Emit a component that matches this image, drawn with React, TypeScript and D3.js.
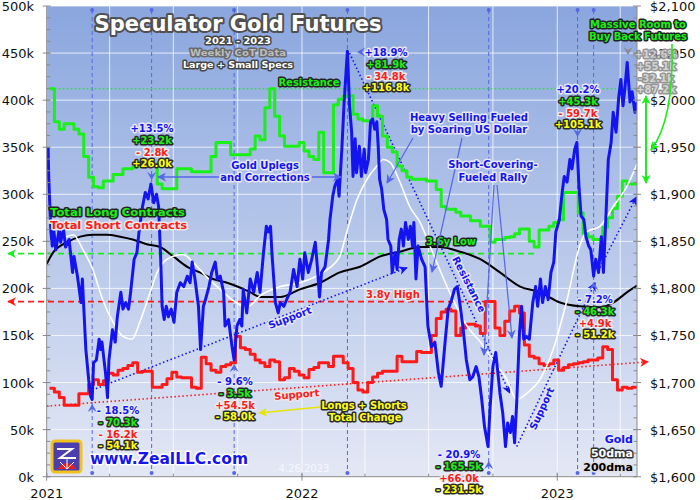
import * as d3 from "d3";

// --- data -----------------------------------------------------------------
const START = new Date(2021, 0, 1);
const END = new Date(2023, 3, 25);

// weekly CoT, Tuesdays from 2021-01-05, thousands of contracts (large + small specs)
const longs = [
  412, 377, 369, 375, 375, 369, 364, 340, 318, 308,
  307, 314, 314, 321, 321, 327, 327, 329, 330, 332,
  332, 332, 311, 306, 306, 306, 327, 327, 327, 324,
  324, 324, 324, 340, 355, 355, 355, 342, 342, 342,
  342, 348, 362, 358, 392, 412, 383, 362, 351, 351,
  351, 355, 346, 340, 337, 366, 323, 323, 395, 401,
  404, 405, 385, 380, 378, 378, 394, 383, 362, 350,
  345, 330, 325, 318, 316, 316, 316, 314, 314, 305,
  287, 284, 284, 281, 277, 277, 272, 272, 266, 266,
  249, 252, 252, 254, 255, 258, 263, 263, 250, 244,
  262, 262, 266, 270, 273, 302, 302, 302, 280, 258,
  255, 252, 252, 265, 275, 285, 298, 314, 311, 311,
  311,
];
const shorts = [
  94, 90, 84, 76, 76, 76, 88, 88, 98, 103,
  98, 102, 110, 108, 113, 115, 118, 121, 111, 112,
  112, 95, 95, 98, 104, 111, 106, 105, 105, 95,
  94, 127, 120, 113, 111, 117, 119, 121, 149, 137,
  135, 130, 124, 121, 117, 124, 122, 103, 105, 115,
  112, 108, 105, 114, 116, 121, 121, 117, 128, 128,
  121, 115, 100, 92, 90, 100, 106, 110, 112, 112,
  112, 128, 122, 122, 122, 133, 132, 132, 150, 168,
  175, 178, 176, 150, 158, 162, 162, 160, 152, 186,
  186, 158, 150, 165, 176, 181, 174, 140, 128, 126,
  120, 118, 120, 124, 113, 116, 119, 120, 121, 122,
  124, 124, 126, 138, 135, 103, 92, 95, 94, 95,
  95,
];

// gold [days since 2021-01-01, $/oz]
const gold: [number, number][] = [
  [2, 1950], [3, 1916], [6, 1860], [8, 1845], [10, 1863], [13, 1841], [18, 1863], [20, 1849],
  [24, 1863], [27, 1844], [32, 1852], [37, 1817], [39, 1834], [44, 1813], [49, 1785], [51, 1810],
  [56, 1735], [60, 1703], [63, 1685], [65, 1682], [67, 1721], [71, 1724], [75, 1746], [77, 1735],
  [79, 1743], [84, 1711], [87, 1684], [89, 1724], [94, 1756], [98, 1743], [101, 1770], [106, 1796],
  [109, 1778], [113, 1785], [117, 1778], [120, 1796], [125, 1831], [129, 1838], [132, 1860], [137, 1887],
  [141, 1902], [145, 1895], [149, 1911], [153, 1891], [157, 1900], [160, 1887], [163, 1831], [165, 1781],
  [168, 1767], [171, 1781], [174, 1770], [178, 1778], [182, 1764], [186, 1796], [191, 1806], [196, 1802],
  [201, 1813], [205, 1806], [208, 1828], [212, 1810], [217, 1781], [220, 1735], [224, 1781], [227, 1788],
  [232, 1802], [236, 1817], [241, 1828], [244, 1810], [248, 1813], [253, 1796], [255, 1760], [260, 1767],
  [265, 1738], [268, 1724], [272, 1760], [276, 1767], [279, 1760], [281, 1799], [286, 1774], [291, 1810],
  [296, 1796], [301, 1817], [305, 1796], [310, 1838], [314, 1866], [317, 1860], [320, 1866], [322, 1838],
  [327, 1785], [331, 1774], [334, 1785], [339, 1781], [343, 1788], [348, 1796], [353, 1820], [358, 1802],
  [362, 1831], [366, 1810], [369, 1838], [374, 1817], [379, 1831], [384, 1849], [387, 1823], [390, 1791],
  [393, 1817], [398, 1823], [403, 1852], [405, 1873], [409, 1898], [412, 1909], [416, 1916], [418, 1898],
  [422, 1948], [425, 1994], [428, 2030], [430, 2052], [433, 1994], [436, 1966], [438, 1919], [441, 1959],
  [443, 1923], [447, 1951], [450, 1919], [454, 1948], [456, 1923], [460, 1937], [463, 1977], [466, 1980],
  [469, 1969], [472, 1977], [474, 1951], [476, 1916], [479, 1905], [482, 1884], [486, 1873], [488, 1852],
  [492, 1845], [494, 1817], [498, 1838], [501, 1820], [504, 1852], [507, 1863], [510, 1845], [513, 1870],
  [517, 1852], [520, 1866], [523, 1845], [525, 1870], [528, 1810], [531, 1845], [536, 1831], [541, 1823],
  [545, 1760], [550, 1738], [555, 1743], [560, 1711], [564, 1696], [569, 1738], [574, 1778], [579, 1788],
  [583, 1799], [587, 1802], [590, 1788], [595, 1760], [600, 1724], [605, 1703], [609, 1706], [614, 1717],
  [618, 1706], [622, 1682], [626, 1653], [631, 1632], [634, 1674], [638, 1717], [642, 1732], [645, 1711],
  [648, 1689], [652, 1668], [656, 1632], [659, 1657], [663, 1647], [666, 1664], [669, 1636], [672, 1679],
  [676, 1753], [679, 1781], [682, 1746], [686, 1749], [690, 1746], [695, 1785], [699, 1802], [702, 1781],
  [706, 1810], [709, 1785], [713, 1802], [717, 1788], [721, 1817], [725, 1828], [728, 1860], [733, 1873],
  [737, 1902], [740, 1919], [744, 1913], [748, 1937], [751, 1927], [755, 1948], [758, 1955], [761, 1909],
  [764, 1877], [768, 1873], [771, 1855], [775, 1845], [778, 1841], [782, 1813], [785, 1831], [789, 1817],
  [793, 1855], [796, 1817], [800, 1884], [803, 1937], [807, 1955], [810, 1987], [814, 1966], [818, 2004],
  [821, 2022], [824, 1994], [827, 2015], [830, 2040], [834, 1998], [837, 2009], [841, 1987], [844, 1998],
];

const ma50: [number, number][] = [
  [5, 1850], [19, 1852], [38, 1857], [52, 1841], [66, 1820], [80, 1788], [95, 1764], [109, 1749],
  [122, 1746], [133, 1764], [148, 1796], [158, 1817], [172, 1831], [195, 1836], [209, 1828], [229, 1812],
  [248, 1799], [267, 1787], [286, 1780], [305, 1792], [334, 1802], [362, 1806], [395, 1817], [419, 1834],
  [429, 1860], [444, 1895], [458, 1916], [472, 1930], [481, 1937], [491, 1934], [505, 1913], [519, 1887],
  [534, 1870], [548, 1845], [562, 1820], [581, 1788], [601, 1760], [620, 1743], [638, 1724], [658, 1703],
  [672, 1682], [687, 1689], [705, 1703], [724, 1735], [744, 1788], [762, 1845], [772, 1860], [791, 1866],
  [810, 1887], [830, 1909], [844, 1932],
];

const ma200: [number, number][] = [
  [0, 1826], [9, 1838], [29, 1849], [48, 1855], [66, 1857], [86, 1857], [105, 1855], [123, 1852],
  [143, 1847], [162, 1844], [181, 1834], [201, 1823], [219, 1817], [238, 1810], [258, 1806], [276, 1801],
  [291, 1796], [305, 1791], [334, 1791], [362, 1799], [391, 1806], [419, 1817], [448, 1823], [477, 1834],
  [505, 1839], [534, 1844], [562, 1844], [591, 1839], [620, 1831], [648, 1817], [677, 1802], [705, 1796],
  [734, 1785], [762, 1781], [791, 1780], [810, 1785], [830, 1796], [844, 1803],
];

const leftTicks = d3.range(0, 501, 50);
const rightTicks = d3.range(1600, 2101, 50);
const yearTicks = [2021, 2022, 2023];

// days of the marked gold extremes
const markDays = [65, 150, 268, 430, 632, 759, 782];

const statBlocks = [
  { x: 118, y: 414, vals: ["- 18.5%", "- 70.3k", "- 16.2k", "- 54.1k"] },
  { x: 152, y: 132, vals: ["+13.5%", "+23.2k", "- 2.8k", "+26.0k"] },
  { x: 235, y: 385, vals: ["- 9.6%", "- 3.5k", "+54.5k", "- 58.0k"] },
  { x: 386, y: 56, vals: ["+18.9%", "+81.9k", "- 34.8k", "+116.8k"] },
  { x: 459, y: 458, vals: ["- 20.9%", "- 165.5k", "+66.0k", "- 231.5k"] },
  { x: 578, y: 93, vals: ["+20.2%", "+45.3k", "- 59.7k", "+105.1k"] },
  { x: 595, y: 303, vals: ["- 7.2%", "- 46.3k", "+4.9k", "- 51.2k"] },
];
const fadedBlock = { x: 656, y: 58, vals: ["+12.6%", "+55.1k", "-32.1k", "+87.2k"] };

// --- styling ----------------------------------------------------------------
const FONT = "'DejaVu Sans', Verdana, sans-serif";
const L = 46.7, R = 637, T = 6, B = 476.7;
const BLUE = "#1414f0";
const GREEN = "#18f018";
const RED = "#ff1a1a";
const YELLOW = "#ffff10";
const ANN = "#5566e8";

const blockFill = [BLUE, GREEN, RED, YELLOW];
const blockStroke = ["#e6e8f4", "#2a2a2a", "#ececec", "#2a2a2a"];

function Halo({
  x, y, text, fill, stroke, size = 10, anchor = "middle", sw = 3, rotate, opacity, length,
}: {
  x: number; y: number; text: string; fill: string; stroke: string; size?: number;
  anchor?: string; sw?: number; rotate?: number; opacity?: number; length?: number;
}) {
  return (
    <text
      x={x}
      y={y}
      textAnchor={anchor}
      fontSize={size}
      fontWeight="bold"
      fill={fill}
      stroke={stroke}
      strokeWidth={sw}
      strokeLinejoin="round"
      paintOrder="stroke"
      opacity={opacity}
      textLength={length}
      lengthAdjust={length ? "spacingAndGlyphs" : undefined}
      transform={rotate ? `rotate(${rotate},${x},${y})` : undefined}
    >
      {text}
    </text>
  );
}

// chevron arrowhead with tip at (x, y), pointing in direction `angle` (deg, 0 = down)
function Chevron({ x, y, angle, color = ANN }: { x: number; y: number; angle: number; color?: string }) {
  return (
    <path
      d={`M${x},${y} L${x - 4.5},${y - 8} L${x},${y - 5} L${x + 4.5},${y - 8} Z`}
      fill={color}
      transform={`rotate(${angle},${x},${y})`}
    />
  );
}

export default function App() {
  const x = d3.scaleTime().domain([START, END]).range([L, R]);
  const yL = d3.scaleLinear().domain([0, 500]).range([B, T]);
  const yR = d3.scaleLinear().domain([1600, 2100]).range([B, T]);
  const weekDate = (i: number) => d3.timeDay.offset(START, 4 + 7 * i);
  const dayDate = (d: number) => d3.timeDay.offset(START, d);

  const stepLine = d3
    .line<number>()
    .x((_, i) => x(weekDate(i)))
    .y((v) => yL(v))
    .curve(d3.curveStepAfter);
  const priceLine = d3
    .line<[number, number]>()
    .x((d) => x(dayDate(d[0])))
    .y((d) => yR(d[1]));
  const smoothLine = priceLine.curve(d3.curveMonotoneX);
  const rawGold = d3
    .line<[number, number]>()
    .x((d) => x(dayDate(d[0])))
    .y((d) => yR(d[1]))(gold);

  const quarters = d3.timeMonth.every(3)!.range(START, END);
  const minorLeft = d3.range(0, 500, 12.5);
  const lowLong = d3.min(longs)!;
  const highShort = d3.max(shorts)!;
  const resist = d3.max(longs)!;

  const tl = (d: number, k: number) => [x(dayDate(d)), yL(k)];
  const dotted = (a: number[], b: number[], color: string, marker?: string) => (
    <line
      x1={a[0]} y1={a[1]} x2={b[0]} y2={b[1]}
      stroke={color} strokeWidth={1.6} strokeDasharray="1.5,2.5"
      markerEnd={marker ? `url(#${marker})` : undefined}
    />
  );

  return (
    <svg
      width={700}
      height={500}
      style={{ position: "absolute", left: 0, top: 0, background: "#fff" }}
      fontFamily={FONT}
    >
      <defs>
        <linearGradient id="bg" x1="0" y1="0" x2="0" y2="1">
          <stop offset="0" stopColor="#8aa6de" />
          <stop offset="0.5" stopColor="#b7c7ea" />
          <stop offset="1" stopColor="#e4e8f5" />
        </linearGradient>
        <clipPath id="plot">
          <rect x={L} y={T} width={R - L} height={B - T} />
        </clipPath>
        {[
          ["mBlue", BLUE],
          ["mAnn", ANN],
          ["mRed", RED],
          ["mGreen", GREEN],
          ["mYellow", "#e6e600"],
        ].map(([id, c]) => (
          <marker
            key={id}
            id={id}
            viewBox="0 0 10 10"
            refX="9"
            refY="5"
            markerWidth="9"
            markerHeight="9"
            markerUnits="userSpaceOnUse"
            orient="auto-start-reverse"
          >
            <path d="M0,0 L10,5 L0,10 L3,5 Z" fill={c} />
          </marker>
        ))}
      </defs>

      <rect x={L} y={T} width={R - L} height={B - T} fill="url(#bg)" />

      {/* grid */}
      {leftTicks.map((v) => (
        <line key={v} x1={L} x2={R} y1={yL(v)} y2={yL(v)} stroke="#fff" strokeOpacity={0.75} />
      ))}
      {quarters.map((q) => (
        <line key={+q} x1={x(q)} x2={x(q)} y1={T} y2={B} stroke="#fff" strokeOpacity={0.75} />
      ))}

      {/* extreme markers */}
      {markDays.map((d) => (
        <g key={d}>
          <line
            x1={x(dayDate(d))} x2={x(dayDate(d))} y1={10} y2={473}
            stroke={ANN} strokeWidth={1} strokeDasharray="4,3"
          />
          <circle cx={x(dayDate(d))} cy={10} r={2} fill={ANN} />
          <circle cx={x(dayDate(d))} cy={473} r={2} fill={ANN} />
        </g>
      ))}

      {/* reference levels */}
      <line x1={L} x2={R} y1={yL(resist)} y2={yL(resist)} stroke={GREEN} strokeWidth={1.5} strokeDasharray="1.5,2.5" />
      <line x1={8} x2={537} y1={yL(lowLong - 7)} y2={yL(lowLong - 7)} stroke={GREEN} strokeWidth={1.6} strokeDasharray="6,4" markerStart="url(#mGreen)" />
      <line x1={8} x2={487} y1={yL(highShort)} y2={yL(highShort)} stroke={RED} strokeWidth={1.6} strokeDasharray="6,4" markerStart="url(#mRed)" />

      {/* trend lines */}
      {dotted(tl(0, 75), tl(860, 122), RED, "mRed")}
      {dotted(tl(65, 92), tl(515, 222), BLUE, "mBlue")}
      {dotted(tl(433, 450), tl(662, 89), BLUE, "mBlue")}
      {dotted(tl(672, 32), tl(784, 206), BLUE, "mBlue")}
      {dotted(tl(791, 222), tl(843, 297), BLUE, "mBlue")}

      {/* series */}
      <g clipPath="url(#plot)" fill="none" strokeLinejoin="round">
        <path d={stepLine(longs)!} stroke={GREEN} strokeWidth={3} />
        <path d={stepLine(shorts)!} stroke={RED} strokeWidth={3} />
        <path d={smoothLine(ma200)!} stroke="#000" strokeWidth={2} />
        <path d={smoothLine(ma50)!} stroke="#fff" strokeWidth={1.6} />
        <path d={rawGold!} stroke={BLUE} strokeWidth={3} />
      </g>

      {/* axes */}
      <g stroke="#8a8a8a">
        <line x1={L} x2={L} y1={T} y2={B} />
        <line x1={R} x2={R} y1={T} y2={B} />
        <line x1={L} x2={R} y1={B} y2={B} />
        {minorLeft.map((v) => (
          <g key={v}>
            <line x1={L} x2={L + 3.5} y1={yL(v)} y2={yL(v)} />
            <line x1={R - 3.5} x2={R} y1={yL(v)} y2={yL(v)} />
          </g>
        ))}
        {leftTicks.map((v) => (
          <g key={v}>
            <line x1={L - 4} x2={L + 4} y1={yL(v)} y2={yL(v)} />
            <line x1={R - 4} x2={R + 4} y1={yL(v)} y2={yL(v)} />
          </g>
        ))}
        {yearTicks.map((yr) => (
          <line key={yr} x1={x(new Date(yr, 0, 1))} x2={x(new Date(yr, 0, 1))} y1={B - 4} y2={B + 4} />
        ))}
        {quarters.map((q) => (
          <line key={+q} x1={x(q)} x2={x(q)} y1={B - 3} y2={B} />
        ))}
      </g>
      <g fontSize={13} fill="#111">
        {leftTicks.map((v) => (
          <text key={v} x={34} y={yL(v) + 5} textAnchor="end">{`${v}k`}</text>
        ))}
        {rightTicks.map((v) => (
          <text key={v} x={650} y={yR(v) + 5}>{d3.format("$,")(v)}</text>
        ))}
        {yearTicks.map((yr) => (
          <text key={yr} x={x(new Date(yr, 0, 1))} y={498} textAnchor="middle">{yr}</text>
        ))}
      </g>

      {/* titles */}
      <text x={239.5} y={32} textAnchor="middle" fontSize={21} fontWeight="bold" fill="#555" opacity={0.45} textLength={287} lengthAdjust="spacingAndGlyphs">
        Speculator Gold Futures
      </text>
      <Halo x={238} y={30.5} text="Speculator Gold Futures" fill="#fff" stroke="#505050" sw={4} size={21} length={287} />
      <Halo x={238} y={43.5} text="2021 - 2023" fill="#fff" stroke="#444" size={9.5} length={66} />
      <Halo x={238} y={56} text="Weekly CoT Data" fill="#bdbdbd" stroke="#6a6a6a" size={9.5} length={96} />
      <Halo x={238} y={68} text="Large + Small Specs" fill="#fff" stroke="#444" size={9.5} length={110} />

      {/* labels */}
      <Halo x={309} y={86} text="Resistance" fill={GREEN} stroke="#222" />
      <Halo x={50} y={216} text="Total Long Contracts" fill={GREEN} stroke="#222" anchor="start" length={135} />
      <Halo x={50} y={229} text="Total Short Contracts" fill={RED} stroke="#e8e8e8" anchor="start" length={137} />
      <Halo x={451} y={245} text="3.6y Low" fill={GREEN} stroke="#222" />
      <Halo x={393} y={298} text="3.8y High" fill={RED} stroke="#e8e8e8" />

      <Halo x={265} y={169} text="Gold Uplegs" fill={BLUE} stroke="#e6e8f4" />
      <Halo x={265} y={181} text="and Corrections" fill={BLUE} stroke="#e6e8f4" />
      <line x1={219} y1={177} x2={158} y2={177} stroke={ANN} strokeWidth={1.5} markerEnd="url(#mAnn)" />
      <line x1={312} y1={177} x2={341} y2={177} stroke={ANN} strokeWidth={1.5} markerEnd="url(#mAnn)" />

      <Halo x={469} y={121} text="Heavy Selling Fueled" fill={BLUE} stroke="#e6e8f4" />
      <Halo x={469} y={133} text="by Soaring US Dollar" fill={BLUE} stroke="#e6e8f4" />
      <line x1={413} y1={138} x2={387} y2={183} stroke={ANN} strokeWidth={1.2} markerEnd="url(#mAnn)" />
      <line x1={462} y1={138} x2={432} y2={272} stroke={ANN} strokeWidth={1.2} markerEnd="url(#mAnn)" />

      <Halo x={493} y={168} text="Short-Covering-" fill={BLUE} stroke="#e6e8f4" />
      <Halo x={493} y={181} text="Fueled Rally" fill={BLUE} stroke="#e6e8f4" />
      <line x1={494} y1={185} x2={484} y2={355} stroke={ANN} strokeWidth={1.2} markerEnd="url(#mAnn)" />
      <line x1={497} y1={185} x2={512} y2={338} stroke={ANN} strokeWidth={1.2} markerEnd="url(#mAnn)" />

      <Halo x={291} y={321} text="Support" fill={BLUE} stroke="#e6e8f4" rotate={-21} />
      <Halo x={297} y={398} text="Support" fill={RED} stroke="#e8e8e8" rotate={-5} />
      <Halo x={466} y={286} text="Resistance" fill={BLUE} stroke="#e6e8f4" rotate={63} />
      <Halo x={545} y={410} text="Support" fill={BLUE} stroke="#e6e8f4" rotate={-65} />

      <Halo x={364} y={409} text="Longs + Shorts" fill={YELLOW} stroke="#2a2a2a" />
      <Halo x={365} y={421} text="Total Change" fill={YELLOW} stroke="#2a2a2a" />
      <line x1={320} y1={407} x2={259} y2={413} stroke="#e6e600" strokeWidth={1.5} markerEnd="url(#mYellow)" />

      {/* stat blocks */}
      {statBlocks.map((b) =>
        b.vals.map((v, i) => (
          <Halo
            key={`${b.x}-${i}`}
            x={b.x}
            y={b.y + i * 11.8}
            text={v}
            fill={blockFill[i]}
            stroke={blockStroke[i]}
          />
        )),
      )}
      <Chevron x={x(dayDate(markDays[0]))} y={404} angle={180} />
      <Chevron x={x(dayDate(markDays[1]))} y={180} angle={0} />
      <Chevron x={x(dayDate(markDays[2]))} y={364} angle={180} />
      <Chevron x={357} y={52} angle={90} />
      <Chevron x={x(dayDate(markDays[4]))} y={461} angle={180} />
      <Chevron x={x(dayDate(markDays[5]))} y={137} angle={0} />
      <Chevron x={x(dayDate(markDays[6]))} y={282} angle={180} />
      <Chevron x={628} y={55} angle={0} color="#8a8a8a" />
      {fadedBlock.vals.map((v, i) => (
        <Halo key={v} x={fadedBlock.x} y={fadedBlock.y + i * 11.8} text={v} fill="#cfcfcf" stroke="#8a8a8a" opacity={0.9} />
      ))}

      {/* room to buy back */}
      <Halo x={638} y={28} text="Massive Room to" fill={GREEN} stroke="#222" length={96} />
      <Halo x={638} y={40} text="Buy Back Futures" fill={GREEN} stroke="#222" length={98} />
      <line x1={646} y1={96} x2={646} y2={183} stroke={GREEN} strokeWidth={2} markerStart="url(#mGreen)" markerEnd="url(#mGreen)" />
      <path d="M672,44 Q674,120 651,150" fill="none" stroke={GREEN} strokeWidth={1.6} markerEnd="url(#mGreen)" />

      {/* legend bottom right */}
      <Halo x={633} y={443} text="Gold" fill={BLUE} stroke="#e6e8f4" anchor="end" size={11} />
      <Halo x={633} y={457} text="50dma" fill="#fff" stroke="#333" anchor="end" size={11} />
      <Halo x={633} y={471} text="200dma" fill="#000" stroke="#e0e0e0" anchor="end" size={11} />

      {/* logo */}
      <rect x={52} y={441} width={29} height={31} rx={3} fill="#4b3fb0" stroke="#f2c21a" strokeWidth={3} />
      <path d="M57,449 L72,449 L60,458 L76,458" fill="none" stroke="#fff" strokeWidth={2} />
      <path d="M58,469 A10,10 0 0 1 76,469 Z" fill="#e42020" />
      <path d="M67,469 L60,462 M67,469 L67,459 M67,469 L74,462" stroke="#fff" strokeWidth={1} />
      <Halo x={90} y={464} text="www.ZealLLC.com" fill={BLUE} stroke="#fff" size={16} length={158} anchor="start" />
      <text x={304} y={472} textAnchor="middle" fontSize={10} fill="#f6f6ff">4.26.2023</text>
    </svg>
  );
}
